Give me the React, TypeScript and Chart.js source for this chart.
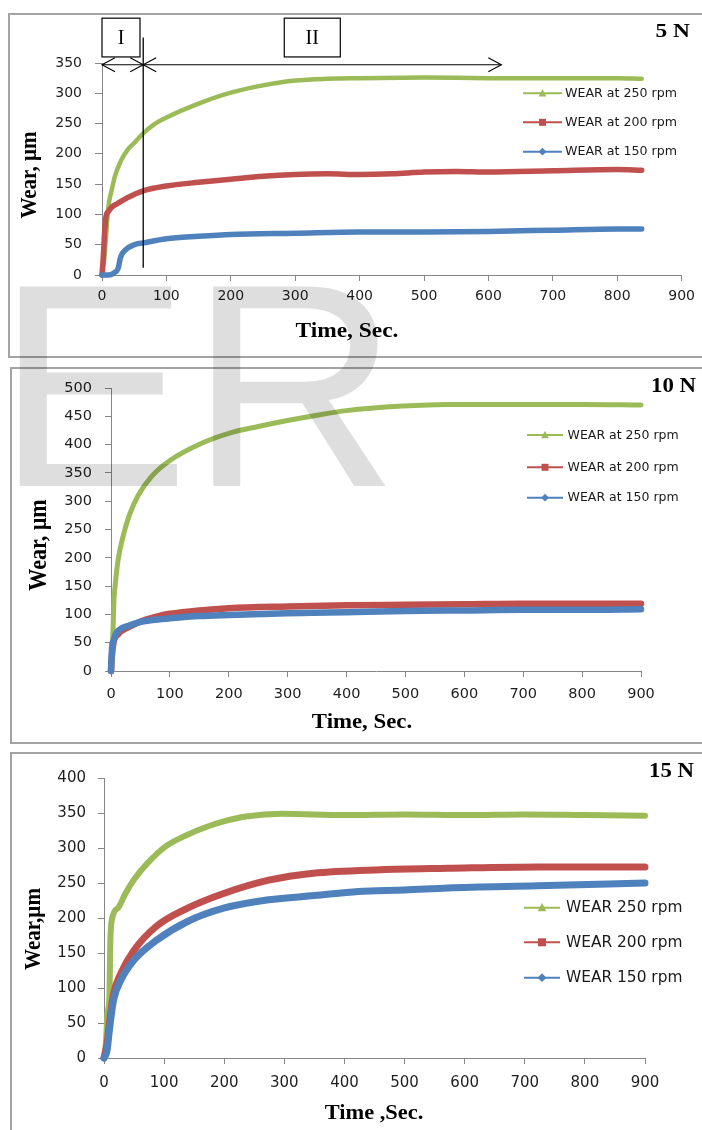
import React, { useEffect, useRef } from 'react';
import { Chart, registerables } from 'chart.js';
Chart.register(...registerables);

// ---------------- data ----------------
const X_TICKS = [0, 100, 200, 300, 400, 500, 600, 700, 800, 900];
const Y_TICKS_5N = [0, 50, 100, 150, 200, 250, 300, 350];
const Y_TICKS_10N = [0, 50, 100, 150, 200, 250, 300, 350, 400, 450, 500];
const Y_TICKS_15N = [0, 50, 100, 150, 200, 250, 300, 350, 400];

const LOAD_LABELS = ['5 N', '10 N', '15 N'];
const X_TITLES = ['Time, Sec.', 'Time, Sec.', 'Time ,Sec.'];
const Y_TITLES = ['Wear, µm', 'Wear, µm', 'Wear,µm'];
const LEGEND_5N = ['WEAR at 250 rpm', 'WEAR at 200 rpm', 'WEAR at 150 rpm'];
const LEGEND_10N = ['WEAR at 250 rpm', 'WEAR at 200 rpm', 'WEAR at 150 rpm'];
const LEGEND_15N = ['WEAR 250 rpm', 'WEAR 200 rpm', 'WEAR 150 rpm'];
const PHASE_LABELS = ['I', 'II'];

// 5 N
const T5_250 = [0, 3, 6, 10, 15, 20, 30, 40, 50, 64, 80, 100, 150, 200, 250, 300, 350, 400, 500, 600, 700, 800, 838];
const W5_250 = [0, 20, 60, 113, 140, 163, 190, 207, 218, 234, 248, 260, 283, 301, 313, 321, 324, 325, 326, 325, 325, 325, 324];
const T5_200 = [0, 2, 4, 6, 10, 15, 24, 40, 64, 100, 150, 200, 250, 300, 350, 400, 450, 500, 550, 600, 700, 800, 838];
const W5_200 = [0, 30, 70, 95, 105, 112, 118, 128, 139, 147, 153, 158, 163, 166, 167, 166, 167, 170, 171, 170, 172, 174, 173];
const T5_150 = [0, 10, 18, 25, 29, 36, 50, 64, 100, 150, 200, 300, 400, 500, 600, 700, 800, 838];
const W5_150 = [0, 0, 3, 11, 30, 41, 50, 53, 60, 64, 67, 69, 71, 71, 72, 74, 76, 76];

// 10 N
const T10_250 = [0, 3, 5, 7, 12, 20, 31, 46, 69, 100, 153, 200, 250, 302, 350, 400, 495, 570, 700, 800, 900];
const W10_250 = [0, 60, 125, 150, 196, 236, 275, 310, 344, 372, 402, 420, 432, 443, 452, 460, 468, 471, 471, 471, 470];
const T10_200 = [0, 1, 4, 12, 29, 57, 85, 100, 150, 200, 300, 400, 500, 600, 700, 800, 900];
const W10_200 = [0, 19, 49, 65, 77, 90, 98, 101, 107, 111, 114, 116, 117, 118, 119, 119, 119];
const T10_150 = [0, 2, 5, 8, 19, 30, 47, 70, 100, 150, 200, 300, 400, 500, 600, 700, 800, 900];
const W10_150 = [0, 43, 55, 65, 76, 80, 86, 90, 93, 97, 99, 102, 104, 106, 107, 108, 108, 109];

// 15 N
const T15_250 = [0, 3, 6, 9, 10.5, 13, 24, 35, 50, 72, 102, 139, 170, 199, 236, 296, 400, 500, 600, 700, 800, 900];
const W15_250 = [0, 20, 65, 87, 166, 197, 215, 234, 255, 278, 302, 319, 330, 338, 345, 349, 347, 348, 347, 348, 347, 346];
const T15_200 = [0, 5, 9, 16, 28, 50, 87, 139, 199, 274, 348, 460, 572, 721, 900];
const W15_200 = [0, 20, 50, 92, 121, 154, 188, 214, 235, 254, 264, 269, 271, 273, 273];
const T15_150 = [0, 5, 9, 16, 28, 50, 87, 139, 199, 274, 350, 423, 500, 572, 721, 900];
const W15_150 = [0, 10, 40, 83, 111, 140, 168, 195, 214, 226, 232, 238, 240, 243, 246, 250];

// phase annotation (5 N), in data units
const PHASE_SPLIT = 64;
const PHASE_END = 620;
const ARROW_Y = 347;
const VLINE_RANGE = [12, 392];
const BOX_Y = [360, 424];
const BOX_I = [0, 59];
const BOX_II = [283, 370];

// ---------------- styles ----------------
const SERIES_COLORS = ['#9BBB59', '#C0504D', '#4F81BD'];
const MARKERS = ['triangle', 'square', 'diamond'];
const AXIS_COLOR = '#868686';
const TICK_COLOR = '#1e1e1e';
const SERIF = '"Liberation Serif", "Times New Roman", serif';
const SANS = '"DejaVu Sans", sans-serif';

type PanelCfg = {
  top: number; height: number;
  area: { l: number; r: number; t: number; b: number };
  yTicks: number[];
  tickFont: number; xTickLen: number; yTickLen: number; xPad: number; yPad: number;
  series: { t: number[]; w: number[]; width: number }[];
  legendLabels: string[];
  legend: { rows: number[]; x1: number; x2: number; tx: number; font: number; marker: number };
  load: { text: string; right: number; base: number; size: number; sx: number };
  xTitle: { text: string; x: number; y: number; size: number; sx: number };
  yTitle: { text: string; x: number; y: number; size: number };
  annot: boolean;
};

const PANELS: PanelCfg[] = [
  {
    top: 0, height: 362,
    area: { l: 102, r: 685, t: 63, b: 275 },
    yTicks: Y_TICKS_5N, tickFont: 14, xTickLen: 6, yTickLen: 7, xPad: 7, yPad: 13,
    series: [
      { t: T5_250, w: W5_250, width: 4.5 },
      { t: T5_200, w: W5_200, width: 5.5 },
      { t: T5_150, w: W5_150, width: 5.5 },
    ],
    legendLabels: LEGEND_5N,
    legend: { rows: [93.3, 122.3, 151.7], x1: 523, x2: 562, tx: 565, font: 12.6, marker: 7 },
    load: { text: LOAD_LABELS[0], right: 690, base: 37, size: 18, sx: 1.3 },
    xTitle: { text: X_TITLES[0], x: 347, y: 332, size: 20, sx: 1.17 },
    yTitle: { text: Y_TITLES[0], x: 30, y: 175, size: 21 },
    annot: true,
  },
  {
    top: 362, height: 386,
    area: { l: 111, r: 641, t: 26, b: 309 },
    yTicks: Y_TICKS_10N, tickFont: 14.5, xTickLen: 6, yTickLen: 6, xPad: 8.5, yPad: 13,
    series: [
      { t: T10_250, w: W10_250, width: 5 },
      { t: T10_200, w: W10_200, width: 6.5 },
      { t: T10_150, w: W10_150, width: 6.5 },
    ],
    legendLabels: LEGEND_10N,
    legend: { rows: [73, 105.3, 135.7], x1: 527, x2: 563, tx: 567.6, font: 12.5, marker: 7 },
    load: { text: LOAD_LABELS[1], right: 696, base: 30, size: 20, sx: 1.14 },
    xTitle: { text: X_TITLES[1], x: 362, y: 361, size: 20, sx: 1.14 },
    yTitle: { text: Y_TITLES[1], x: 40, y: 183, size: 22 },
    annot: false,
  },
  {
    top: 748, height: 382,
    area: { l: 104, r: 645, t: 30, b: 310 },
    yTicks: Y_TICKS_15N, tickFont: 15, xTickLen: 6, yTickLen: 6, xPad: 10.5, yPad: 12,
    series: [
      { t: T15_250, w: W15_250, width: 6 },
      { t: T15_200, w: W15_200, width: 7 },
      { t: T15_150, w: W15_150, width: 7 },
    ],
    legendLabels: LEGEND_15N,
    legend: { rows: [159.7, 194.3, 229.7], x1: 524, x2: 560, tx: 566, font: 15.4, marker: 8 },
    load: { text: LOAD_LABELS[2], right: 694, base: 29, size: 20, sx: 1.14 },
    xTitle: { text: X_TITLES[2], x: 374, y: 366, size: 20, sx: 1.12 },
    yTitle: { text: Y_TITLES[2], x: 33.6, y: 181, size: 21 },
    annot: false,
  },
];

// ---------------- drawing helpers ----------------
function drawMarker(ctx: CanvasRenderingContext2D, kind: string, cx: number, cy: number, s: number, color: string) {
  ctx.save();
  ctx.fillStyle = color;
  ctx.beginPath();
  if (kind === 'triangle') {
    ctx.moveTo(cx, cy - s * 0.6);
    ctx.lineTo(cx + s * 0.55, cy + s * 0.45);
    ctx.lineTo(cx - s * 0.55, cy + s * 0.45);
  } else if (kind === 'square') {
    ctx.rect(cx - s / 2, cy - s / 2, s, s);
  } else {
    const h = s * 0.55;
    ctx.moveTo(cx, cy - h);
    ctx.lineTo(cx + h, cy);
    ctx.lineTo(cx, cy + h);
    ctx.lineTo(cx - h, cy);
  }
  ctx.closePath();
  ctx.fill();
  ctx.restore();
}

function arrowHead(ctx: CanvasRenderingContext2D, x: number, y: number, dir: number) {
  ctx.beginPath();
  ctx.moveTo(x - dir * 13, y - 7);
  ctx.lineTo(x, y);
  ctx.lineTo(x - dir * 13, y + 7);
  ctx.stroke();
}

function makeDecor(p: PanelCfg) {
  return {
    id: 'decor',
    afterDatasetsDraw(chart: any) {
      const ctx: CanvasRenderingContext2D = chart.ctx;
      const xs = chart.scales.x;
      const ys = chart.scales.y;
      const px = (v: number) => xs.getPixelForValue(v);
      const py = (v: number) => ys.getPixelForValue(v);

      if (p.annot) {
        ctx.save();
        ctx.strokeStyle = '#000';
        ctx.lineWidth = 1.3;
        ctx.beginPath();
        ctx.moveTo(px(PHASE_SPLIT), py(VLINE_RANGE[1]));
        ctx.lineTo(px(PHASE_SPLIT), py(VLINE_RANGE[0]));
        ctx.stroke();
        const ay = py(ARROW_Y);
        ctx.lineWidth = 1.1;
        ctx.beginPath();
        ctx.moveTo(px(0), ay);
        ctx.lineTo(px(PHASE_END), ay);
        ctx.stroke();
        arrowHead(ctx, px(0), ay, -1);
        arrowHead(ctx, px(PHASE_SPLIT), ay, 1);
        arrowHead(ctx, px(PHASE_SPLIT), ay, -1);
        arrowHead(ctx, px(PHASE_END), ay, 1);
        ctx.lineWidth = 1.2;
        [BOX_I, BOX_II].forEach((b, i) => {
          const x0 = px(b[0]), x1 = px(b[1]);
          const y0 = py(BOX_Y[1]), y1 = py(BOX_Y[0]);
          ctx.fillStyle = '#fff';
          ctx.fillRect(x0, y0, x1 - x0, y1 - y0);
          ctx.strokeRect(x0, y0, x1 - x0, y1 - y0);
          ctx.fillStyle = '#000';
          ctx.font = `20px ${SERIF}`;
          ctx.textAlign = 'center';
          ctx.textBaseline = 'middle';
          ctx.fillText(PHASE_LABELS[i], (x0 + x1) / 2, (y0 + y1) / 2 + 1);
        });
        ctx.restore();
      }

      // load label
      ctx.save();
      ctx.fillStyle = '#000';
      ctx.translate(p.load.right, p.load.base);
      ctx.scale(p.load.sx, 1);
      ctx.font = `bold ${p.load.size}px ${SERIF}`;
      ctx.textAlign = 'right';
      ctx.textBaseline = 'alphabetic';
      ctx.fillText(p.load.text, 0, 0);
      ctx.restore();

      // x title
      ctx.save();
      ctx.fillStyle = '#000';
      ctx.translate(p.xTitle.x, p.xTitle.y);
      ctx.scale(p.xTitle.sx, 1);
      ctx.font = `bold ${p.xTitle.size}px ${SERIF}`;
      ctx.textAlign = 'center';
      ctx.textBaseline = 'middle';
      ctx.fillText(p.xTitle.text, 0, 0);
      ctx.restore();

      // y title
      ctx.save();
      ctx.fillStyle = '#000';
      ctx.translate(p.yTitle.x, p.yTitle.y);
      ctx.rotate(-Math.PI / 2);
      ctx.scale(1, 1.12);
      ctx.font = `bold ${p.yTitle.size}px ${SERIF}`;
      ctx.textAlign = 'center';
      ctx.textBaseline = 'middle';
      ctx.fillText(p.yTitle.text, 0, 0);
      ctx.restore();

      // legend
      const L = p.legend;
      p.legendLabels.forEach((label, i) => {
        const y = L.rows[i];
        ctx.save();
        ctx.strokeStyle = SERIES_COLORS[i];
        ctx.lineWidth = 2;
        ctx.beginPath();
        ctx.moveTo(L.x1, y);
        ctx.lineTo(L.x2, y);
        ctx.stroke();
        drawMarker(ctx, MARKERS[i], (L.x1 + L.x2) / 2, y, L.marker, SERIES_COLORS[i]);
        ctx.fillStyle = '#1a1a1a';
        ctx.font = `${L.font}px ${SANS}`;
        ctx.textAlign = 'left';
        ctx.textBaseline = 'middle';
        ctx.fillText(label, L.tx, y + 0.5);
        ctx.restore();
      });
    },
  };
}

function Panel({ cfg }: { cfg: PanelCfg }) {
  const ref = useRef<HTMLCanvasElement>(null);
  useEffect(() => {
    const a = cfg.area;
    const datasets = cfg.series.map((s, i) => ({
      label: cfg.legendLabels[i],
      data: s.t.map((x, j) => ({ x, y: s.w[j] })),
      borderColor: SERIES_COLORS[i],
      backgroundColor: SERIES_COLORS[i],
      borderWidth: s.width,
      pointRadius: 0,
      fill: false,
      cubicInterpolationMode: 'monotone' as const,
      borderJoinStyle: 'round' as const,
      borderCapStyle: 'round' as const,
      order: 2 - i,
      clip: 6,
    }));
    const chart = new Chart(ref.current as HTMLCanvasElement, {
      type: 'line',
      data: { datasets },
      options: {
        responsive: false,
        animation: false,
        events: [],
        layout: { padding: { left: 0, top: a.t, right: 702 - a.r, bottom: 0 } },
        plugins: {
          legend: { display: false },
          tooltip: { enabled: false },
          title: { display: false },
        },
        scales: {
          x: {
            type: 'linear',
            min: X_TICKS[0],
            max: X_TICKS[X_TICKS.length - 1],
            afterBuildTicks: (s: any) => { s.ticks = X_TICKS.map((v) => ({ value: v })); },
            afterFit: (s: any) => { s.height = cfg.height - a.b; },
            ticks: {
              autoSkip: false, maxRotation: 0, padding: cfg.xPad, color: TICK_COLOR,
              font: { family: SANS, size: cfg.tickFont },
              callback: (v: any) => String(v),
            },
            grid: { display: true, drawOnChartArea: false, drawTicks: true, tickLength: cfg.xTickLen, color: AXIS_COLOR, lineWidth: 1 },
            border: { display: true, color: AXIS_COLOR, width: 1 },
          },
          y: {
            type: 'linear',
            min: cfg.yTicks[0],
            max: cfg.yTicks[cfg.yTicks.length - 1],
            afterBuildTicks: (s: any) => { s.ticks = cfg.yTicks.map((v) => ({ value: v })); },
            afterFit: (s: any) => { s.width = a.l; },
            ticks: {
              autoSkip: false, padding: cfg.yPad, color: TICK_COLOR,
              font: { family: SANS, size: cfg.tickFont },
              callback: (v: any) => String(v),
            },
            grid: { display: true, drawOnChartArea: false, drawTicks: true, tickLength: cfg.yTickLen, color: AXIS_COLOR, lineWidth: 1 },
            border: { display: true, color: AXIS_COLOR, width: 1 },
          },
        },
      } as any,
      plugins: [makeDecor(cfg)],
    });
    return () => chart.destroy();
  }, [cfg]);
  return (
    <canvas
      ref={ref}
      width={702}
      height={cfg.height}
      style={{ position: 'absolute', left: 0, top: cfg.top, width: 702, height: cfg.height }}
    />
  );
}

const FRAMES = [
  { left: 8, top: 13, height: 345 },
  { left: 10, top: 367, height: 377 },
  { left: 10, top: 752, height: 400 },
];

export default function App() {
  return (
    <div style={{ position: 'absolute', left: 0, top: 0, width: 702, height: 1130, overflow: 'hidden', background: '#fff' }}>
      {FRAMES.map((f, i) => (
        <div
          key={i}
          style={{
            position: 'absolute', left: f.left, top: f.top, width: 760, height: f.height,
            border: '2px solid #a3a3a3', boxSizing: 'border-box',
          }}
        />
      ))}
      {PANELS.map((p, i) => <Panel key={i} cfg={p} />)}
      <svg
        width={702}
        height={1130}
        style={{ position: 'absolute', left: 0, top: 0, mixBlendMode: 'multiply', pointerEvents: 'none' }}
      >
        <text x={-4} y={486} fontFamily='"Liberation Sans", Arial, sans-serif' fontSize={290} fill="#dedede">ER</text>
      </svg>
    </div>
  );
}
